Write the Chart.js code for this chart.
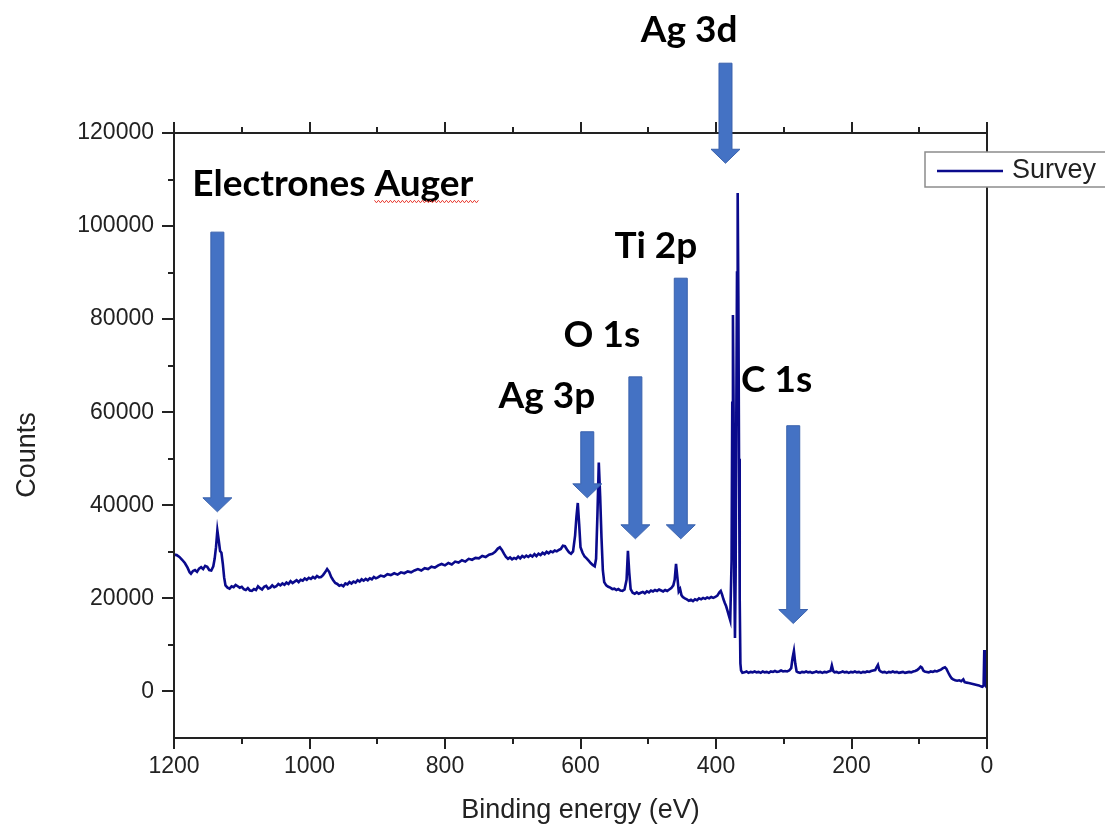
<!DOCTYPE html>
<html lang="es">
<head>
<meta charset="utf-8">
<title>XPS Survey</title>
<script src="https://cdn.jsdelivr.net/npm/chart.js@4.4.1/dist/chart.umd.min.js"></script>
<style>
    html, body { margin: 0; padding: 0; background: #fff; }
    canvas { display: block; }
</style>
</head>
<body>
<canvas id="surveyChart" width="1105" height="829"></canvas>
<script>
// Espectro survey: energía de enlace (eV) y cuentas
const energia = [
    1200,1196,1192,1188,1184,1180,1177,1175,1172,1169,
    1166,1163,1160,1157,1154,1151,1148,1145,1142,1140,
    1138,1136,1134,1132,1130,1128,1126,1124,1121,1118,
    1115,1112,1109,1106,1103,1100,1097,1094,1091,1088,
    1085,1082,1079,1076,1073,1070,1067,1064,1061,1058,
    1055,1052,1049,1046,1043,1040,1037,1034,1031,1028,
    1025,1022,1019,1016,1013,1010,1007,1004,1001,998,
    995,992,989,986,983,980,977,974,971,968,
    965,962,959,956,953,950,947,944,941,938,
    935,932,929,926,923,920,917,914,911,908,
    905,902,899,895,890,885,880,875,870,865,
    860,855,850,845,840,835,830,825,820,815,
    810,805,800,795,790,785,780,775,770,765,
    760,755,750,745,740,735,730,726,722,719,
    716,713,710,707,704,701,698,695,692,689,
    686,683,680,677,674,671,668,665,662,659,
    656,653,650,647,644,641,638,635,632,629,
    626,623,620,617,614,611,608,606,604,602,
    600,597,594,591,588,585,582,579,577,575,
    573,571,569,567,565,562,559,556,553,550,
    547,544,541,538,535,532,530,528,526,523,
    520,517,514,511,508,505,502,499,496,493,
    490,487,484,481,478,475,472,469,466,463,
    461,459,457,455,453,451,449,446,443,440,
    437,434,431,428,425,422,419,416,413,410,
    407,404,401,398,395,393,391,389,387,385,
    383,381,379,377,376,375,374,373,372,371,
    370,369,368,367,366,365,364,363,361,358,
    355,352,349,346,343,340,337,334,331,328,
    325,322,319,316,313,310,307,304,301,298,
    295,292,289,287,285,283,281,279,276,273,
    270,267,264,261,258,255,252,249,246,243,
    240,237,234,231,229,227,225,222,219,216,
    213,210,207,204,201,198,195,192,189,186,
    183,180,177,174,171,168,165,163,161,159,
    157,154,151,148,145,142,139,136,133,130,
    127,124,121,118,115,112,109,106,103,100,
    98,96,94,92,89,86,83,80,77,74,
    71,68,65,62,60,58,56,54,52,50,
    47,44,41,38,35,33,30,27,24,21,
    18,15,12,9,7,5,4,3,2,1,
    0
];

const cuentas = [
    29400,29300,28900,28300,27600,26600,25600,25300,25900,26100,
    25700,26400,26700,26300,27000,26800,26100,26000,26900,28500,
    31000,34600,32500,30200,29800,27500,24500,22800,22300,22100,
    22600,22400,22900,22600,22300,22500,22000,21800,22200,21700,
    21600,22000,21800,22600,22200,21900,22500,22700,22100,22300,
    22800,22400,22600,23100,22800,23200,22900,23400,23100,23700,
    23300,23600,23900,23500,24000,23800,24300,24000,24400,24200,
    24600,24300,24800,24500,24600,25000,25600,26300,25700,24600,
    23900,23300,23100,22700,22900,22600,23200,23000,23500,23200,
    23600,23400,23900,23600,24100,23800,24200,23900,24300,24100,
    24600,24300,24500,24900,24700,25200,25000,25400,25100,25600,
    25400,25800,25600,26000,26300,26000,26500,26300,26800,26600,
    27100,27400,27100,27600,27300,27900,27700,28200,27900,28500,
    28300,28700,28600,29100,28900,29400,29600,30000,30700,31000,
    30400,29600,28900,28500,28800,28400,28700,28500,29000,28600,
    29100,28800,29200,28900,29300,29000,29500,29100,29600,29300,
    29800,29500,30000,29700,30100,29900,30300,30100,30400,30600,
    31300,31200,30500,29900,29600,30100,33500,37500,40500,36000,
    31000,29800,29000,28600,28100,27600,27200,26900,28500,38000,
    49200,42000,33000,26000,23500,22800,22500,22300,22000,22100,
    21800,22000,21700,21600,21900,24000,30200,25500,22000,21200,
    21000,21300,21000,21200,21400,21100,21500,21300,21700,21500,
    21800,21600,21900,21700,21500,21800,21600,21900,22200,22800,
    24000,27400,24500,21500,22000,20700,20300,20000,19800,19500,
    19700,19400,19800,19600,20000,19800,20100,19900,20200,20000,
    20300,20100,20300,20600,21300,21600,20800,19800,19000,18300,
    17300,16300,15300,28000,62000,80900,60000,24000,11500,25000,
    60000,90000,107100,85000,50000,20000,6000,4500,4000,4100,
    4300,4000,4200,4100,4300,4100,4200,4000,4300,4100,
    4200,4000,4300,4200,4400,4200,4300,4500,4300,4400,
    4300,4500,5000,7200,8700,6000,4300,4100,4000,4200,
    4100,4300,4100,4200,4000,4100,4300,4100,4200,4000,
    4200,4100,4300,4400,5600,4400,4100,4200,4000,4100,
    4300,4100,4200,4000,4200,4100,4300,4100,4200,4000,
    4200,4100,4300,4200,4400,4500,4600,5200,5700,4600,
    4300,4100,4200,4000,4200,4100,4300,4100,4200,4000,
    4100,4200,4000,4100,4200,4100,4300,4400,4600,5000,
    5300,5100,4500,4300,4200,4100,4300,4200,4400,4300,
    4500,4700,5000,5200,4900,4300,3700,3200,2800,2600,
    2400,2300,2400,2200,2600,2000,1900,1800,1700,1600,
    1500,1400,1300,1100,1000,1200,8900,6000,2500,1000,
    800
];

const ticksX = [1200, 1000, 800, 600, 400, 200, 0];
const ticksY = [0, 20000, 40000, 60000, 80000, 100000, 120000];
const pasoMenorX = 100;
const pasoMenorY = 10000;

// Flechas (energía, cuenta superior, cuenta de la punta) y rótulos de los picos
const flechas = [
    { x: 1136, desde: 98700, hasta: 38600 },
    { x: 386, desde: 135000, hasta: 113500 },
    { x: 452, desde: 88800, hasta: 32800 },
    { x: 519, desde: 67600, hasta: 32800 },
    { x: 590, desde: 55800, hasta: 41600 },
    { x: 286, desde: 57100, hasta: 14600 }
];

const rotulos = [
    { texto: 'Electrones Auger', x: 1173, y: 106400, subrayar: 'Auger' },
    { texto: 'Ag 3d', x: 511, y: 139500 },
    { texto: 'Ti 2p', x: 550, y: 93100 },
    { texto: 'O 1s', x: 625, y: 74000 },
    { texto: 'Ag 3p', x: 721, y: 61000 },
    { texto: 'C 1s', x: 363, y: 64400 }
];

const FUENTE_EJES = "'Liberation Sans', Arial, sans-serif";
const FUENTE_ROTULOS = "Lato, 'Open Sans', sans-serif";
const COLOR_LINEA = '#0a0a8c';
const COLOR_FLECHA = '#4472c4';

if (energia.length !== cuentas.length) {
    console.error('energia y cuentas no tienen la misma longitud');
}

const puntos = energia.map((e, i) => ({ x: e, y: cuentas[i] }));

function dibujarFlecha(ctx, cx, yArriba, yPunta) {
    const medioCuerpo = 6.5, medioCabeza = 14.5, largoCabeza = 14;
    ctx.beginPath();
    ctx.moveTo(cx - medioCuerpo, yArriba);
    ctx.lineTo(cx + medioCuerpo, yArriba);
    ctx.lineTo(cx + medioCuerpo, yPunta - largoCabeza);
    ctx.lineTo(cx + medioCabeza, yPunta - largoCabeza);
    ctx.lineTo(cx, yPunta);
    ctx.lineTo(cx - medioCabeza, yPunta - largoCabeza);
    ctx.lineTo(cx - medioCuerpo, yPunta - largoCabeza);
    ctx.closePath();
    ctx.fill();
    ctx.stroke();
}

// Marco, marcas de los ejes, títulos, anotaciones y leyenda
const decoracion = {
    id: 'decoracion',
    afterDraw(chart) {
        const { ctx, chartArea: a, scales: { x, y } } = chart;
        ctx.save();

        // marco
        ctx.strokeStyle = '#222';
        ctx.lineWidth = 2;
        ctx.strokeRect(a.left, a.top, a.right - a.left, a.bottom - a.top);

        // marcas en x (abajo y arriba)
        ctx.beginPath();
        for (let v = x.min; v <= x.max; v += pasoMenorX) {
            const px = Math.round(x.getPixelForValue(v));
            const largo = ticksX.includes(v) ? 11 : 6;
            ctx.moveTo(px, a.bottom);
            ctx.lineTo(px, a.bottom + largo);
            ctx.moveTo(px, a.top);
            ctx.lineTo(px, a.top - largo);
        }
        // marcas en y (izquierda)
        for (let v = 0; v <= y.max; v += pasoMenorY) {
            const py = Math.round(y.getPixelForValue(v));
            const largo = ticksY.includes(v) ? 12 : 6;
            ctx.moveTo(a.left, py);
            ctx.lineTo(a.left - largo, py);
        }
        ctx.stroke();

        // títulos de los ejes
        ctx.fillStyle = '#222';
        ctx.font = `27px ${FUENTE_EJES}`;
        ctx.textAlign = 'center';
        ctx.textBaseline = 'alphabetic';
        ctx.fillText('Binding energy (eV)', (a.left + a.right) / 2, a.bottom + 80);
        ctx.save();
        ctx.translate(a.left - 139, a.top + 322);
        ctx.rotate(-Math.PI / 2);
        ctx.fillText('Counts', 0, 0);
        ctx.restore();

        // flechas
        ctx.fillStyle = COLOR_FLECHA;
        ctx.strokeStyle = '#3a62ad';
        ctx.lineWidth = 1;
        flechas.forEach(f => {
            dibujarFlecha(ctx, x.getPixelForValue(f.x), y.getPixelForValue(f.desde), y.getPixelForValue(f.hasta));
        });

        // rótulos
        ctx.fillStyle = '#000';
        ctx.font = `bold 37px ${FUENTE_ROTULOS}`;
        ctx.textAlign = 'left';
        ctx.textBaseline = 'alphabetic';
        rotulos.forEach(r => {
            const px = x.getPixelForValue(r.x);
            const py = y.getPixelForValue(r.y);
            ctx.fillText(r.texto, px, py);
            if (r.subrayar) {
                // ondulado rojo bajo la palabra
                const ini = px + ctx.measureText(r.texto.slice(0, r.texto.indexOf(r.subrayar))).width;
                const fin = ini + ctx.measureText(r.subrayar).width + 6;
                ctx.save();
                ctx.strokeStyle = '#e8392f';
                ctx.lineWidth = 1;
                ctx.beginPath();
                let arriba = true;
                for (let sx = ini; sx <= fin; sx += 2) {
                    const sy = py + (arriba ? 4 : 6.5);
                    if (sx === ini) ctx.moveTo(sx, sy); else ctx.lineTo(sx, sy);
                    arriba = !arriba;
                }
                ctx.stroke();
                ctx.restore();
            }
        });

        // leyenda
        const ds = chart.data.datasets[0];
        const lx = a.right - 62, ly = a.top + 19;
        ctx.fillStyle = '#fff';
        ctx.fillRect(lx, ly, 220, 35);
        ctx.strokeStyle = '#8c8c8c';
        ctx.lineWidth = 1.5;
        ctx.strokeRect(lx, ly, 220, 35);
        ctx.strokeStyle = ds.borderColor;
        ctx.lineWidth = 2.5;
        ctx.beginPath();
        ctx.moveTo(lx + 12, ly + 19);
        ctx.lineTo(lx + 78, ly + 19);
        ctx.stroke();
        ctx.fillStyle = '#222';
        ctx.font = `27px ${FUENTE_EJES}`;
        ctx.textBaseline = 'middle';
        ctx.fillText(ds.label, lx + 87, ly + 19);

        ctx.restore();
    }
};

const ctx = document.getElementById('surveyChart');

new Chart(ctx, {
    type: 'scatter',
    data: {
        datasets: [{
            label: 'Survey',
            data: puntos,
            showLine: true,
            borderColor: COLOR_LINEA,
            borderWidth: 2.6,
            pointRadius: 0,
            tension: 0
        }]
    },
    options: {
        responsive: false,
        animation: false,
        devicePixelRatio: 1,
        layout: {
            padding: { top: 133, right: 118, left: 0, bottom: 0 }
        },
        plugins: {
            legend: { display: false },
            tooltip: { enabled: false }
        },
        scales: {
            x: {
                type: 'linear',
                reverse: true,
                min: 0,
                max: 1200,
                afterFit: s => { s.height = 91; },
                afterBuildTicks: s => { s.ticks = ticksX.map(v => ({ value: v })); },
                grid: { display: false, drawTicks: false },
                border: { display: false },
                ticks: {
                    padding: 15,
                    color: '#222',
                    font: { family: FUENTE_EJES, size: 23 },
                    maxRotation: 0,
                    autoSkip: false,
                    callback: v => String(v)
                }
            },
            y: {
                type: 'linear',
                min: -10000,
                max: 120000,
                afterFit: s => { s.width = 174; },
                afterBuildTicks: s => { s.ticks = ticksY.map(v => ({ value: v })); },
                grid: { display: false, drawTicks: false },
                border: { display: false },
                ticks: {
                    padding: 20,
                    color: '#222',
                    font: { family: FUENTE_EJES, size: 23 },
                    autoSkip: false,
                    callback: v => String(v)
                }
            }
        }
    },
    plugins: [decoracion]
});
</script>
</body>
</html>
